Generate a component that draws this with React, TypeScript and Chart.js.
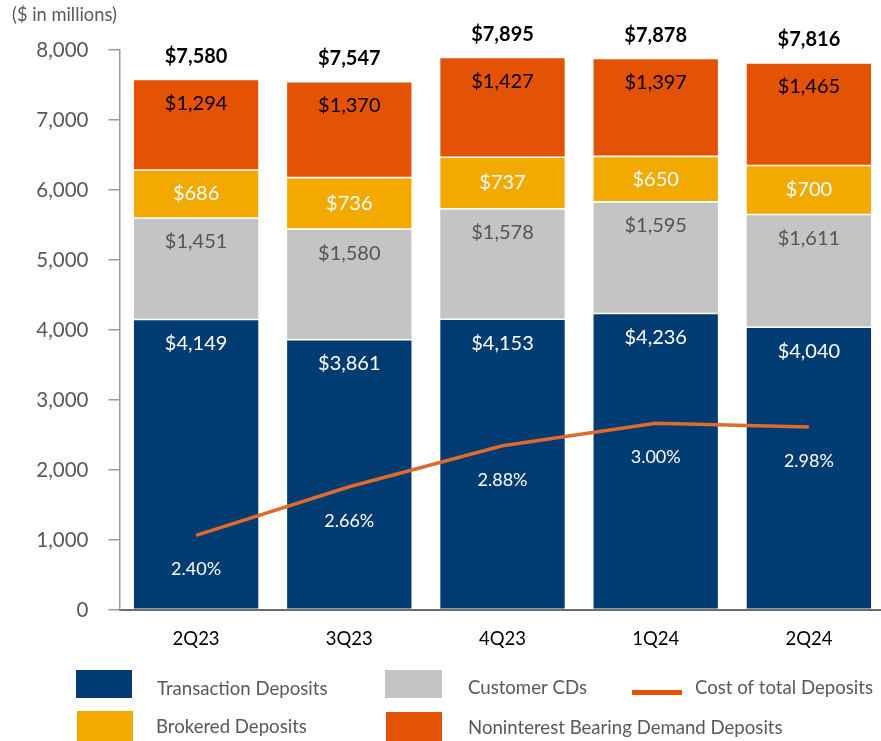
import React, { useEffect, useRef } from "react";
import { Chart, registerables } from "chart.js";

Chart.register(...registerables);

const categories = ["2Q23", "3Q23", "4Q23", "1Q24", "2Q24"];
const transactionDeposits = [4149, 3861, 4153, 4236, 4040];
const customerCDs = [1451, 1580, 1578, 1595, 1611];
const brokeredDeposits = [686, 736, 737, 650, 700];
const noninterestDeposits = [1294, 1370, 1427, 1397, 1465];
const totals = [7580, 7547, 7895, 7878, 7816];
const costOfDeposits = [2.4, 2.66, 2.88, 3.0, 2.98];
const yTicks = [0, 1000, 2000, 3000, 4000, 5000, 6000, 7000, 8000];

const FONT = "Lato, 'Noto Sans', sans-serif";
const BLUE = "#003B71";
const GREY = "#C4C4C4";
const YELLOW = "#F2A900";
const ORANGE = "#E35205";
const LINE = "#DE6A2C";
const TEXT_GREY = "#595959";

const fmt = (v: number) => "$" + v.toLocaleString("en-US");

const barSeries = [
  { label: "Transaction Deposits", data: transactionDeposits, color: BLUE, labelColor: "#ffffff", centered: false },
  { label: "Customer CDs", data: customerCDs, color: GREY, labelColor: "#555555", centered: false },
  { label: "Brokered Deposits", data: brokeredDeposits, color: YELLOW, labelColor: "#ffffff", centered: true },
  { label: "Noninterest Bearing Demand Deposits", data: noninterestDeposits, color: ORANGE, labelColor: "#000000", centered: false },
];

const labelsPlugin = {
  id: "customLabels",
  afterDatasetsDraw(chart: any) {
    const ctx = chart.ctx;
    ctx.save();
    ctx.textAlign = "center";
    ctx.textBaseline = "middle";
    // segment labels
    barSeries.forEach((s, si) => {
      const meta = chart.getDatasetMeta(si + 1);
      meta.data.forEach((bar: any, i: number) => {
        const p = bar.getProps(["x", "y", "base"], true);
        ctx.font = `20px ${FONT}`;
        ctx.fillStyle = s.labelColor;
        const y = s.centered ? (p.y + p.base) / 2 : p.y + 24;
        ctx.fillText(fmt(s.data[i]), p.x, y);
      });
    });
    // totals
    const topMeta = chart.getDatasetMeta(barSeries.length);
    topMeta.data.forEach((bar: any, i: number) => {
      const p = bar.getProps(["x", "y"], true);
      ctx.font = `bold 20px ${FONT}`;
      ctx.fillStyle = "#000000";
      ctx.fillText(fmt(totals[i]), p.x, p.y - 23);
    });
    // percentages
    const lineMeta = chart.getDatasetMeta(0);
    lineMeta.data.forEach((pt: any, i: number) => {
      const p = pt.getProps(["x", "y"], true);
      ctx.font = `18px ${FONT}`;
      ctx.fillStyle = "#ffffff";
      ctx.fillText(costOfDeposits[i].toFixed(2) + "%", p.x, p.y + 34);
    });

    // unit title
    ctx.textAlign = "left";
    ctx.font = `18.3px ${FONT}`;
    ctx.fillStyle = TEXT_GREY;
    ctx.fillText("($ in millions)", 12, 15);

    // legend
    const box = (x: number, y: number, w: number, h: number, c: string) => {
      ctx.fillStyle = c;
      ctx.fillRect(x, y, w, h);
    };
    const txt = (t: string, x: number, y: number) => {
      ctx.font = `18.6px ${FONT}`;
      ctx.fillStyle = TEXT_GREY;
      ctx.fillText(t, x, y);
    };
    box(76, 670, 56, 28, BLUE);
    txt("Transaction Deposits", 157, 689);
    box(385, 670, 57, 28, GREY);
    txt("Customer CDs", 468, 688);
    ctx.fillStyle = ORANGE;
    ctx.fillRect(632, 690, 50, 5);
    txt("Cost of total Deposits", 695, 688);
    box(77, 711, 56, 30, YELLOW);
    txt("Brokered Deposits", 156, 727);
    box(386, 712, 56, 29, ORANGE);
    txt("Noninterest Bearing Demand Deposits", 468, 728);
    ctx.restore();
  },
};

export default function App() {
  const ref = useRef<HTMLCanvasElement>(null);
  useEffect(() => {
    if (!ref.current) return;
    const chart = new Chart(ref.current, {
      type: "bar",
      data: {
        labels: categories,
        datasets: [
          {
            type: "line" as const,
            label: "Cost of total Deposits",
            data: costOfDeposits,
            yAxisID: "y2",
            borderColor: LINE,
            backgroundColor: LINE,
            borderWidth: 3.5,
            pointRadius: 0,
            tension: 0,
            order: 0,
          } as any,
          ...barSeries.map((s) => ({
            type: "bar" as const,
            label: s.label,
            data: s.data,
            backgroundColor: s.color,
            borderColor: "rgba(255,255,255,0.55)",
            borderWidth: 0.8,
            borderSkipped: false,
            categoryPercentage: 1,
            barPercentage: 0.822,
            yAxisID: "y",
            order: 1,
          })),
        ],
      },
      options: {
        responsive: false,
        animation: false,
        devicePixelRatio: 1,
        layout: { padding: { left: 0, top: 50, right: 6.5, bottom: 0 } },
        plugins: { legend: { display: false }, tooltip: { enabled: false } },
        scales: {
          x: {
            stacked: true,
            grid: { display: true, drawOnChartArea: false, drawTicks: false },
            border: { display: true, color: "#6b6b6b", width: 2 },
            ticks: { color: "#000000", font: { family: FONT, size: 18.5 }, padding: 18 },
            afterFit: (s: any) => {
              s.height = 131;
            },
          },
          y: {
            stacked: true,
            min: 0,
            max: 8000,
            afterBuildTicks: (s: any) => {
              s.ticks = yTicks.map((v) => ({ value: v }));
            },
            grid: { display: true, drawOnChartArea: false, drawTicks: true, tickLength: 11, color: "#9a9a9a", lineWidth: 1.5 },
            border: { display: true, color: "#9a9a9a", width: 1.5 },
            ticks: {
              color: TEXT_GREY,
              font: { family: FONT, size: 20.5 },
              padding: 20,
              callback: (v: any) => Number(v).toLocaleString("en-US"),
            },
            afterFit: (s: any) => {
              s.width = 119.5;
            },
          },
          y2: {
            display: false,
            stacked: false,
            min: 2,
            max: 5,
          },
        },
      },
      plugins: [labelsPlugin],
    });
    return () => chart.destroy();
  }, []);
  return (
    <div style={{ position: "absolute", left: 0, top: 0, width: 881, height: 741, overflow: "hidden", background: "#fff" }}>
      <canvas ref={ref} width={892} height={741} style={{ display: "block" }} />
    </div>
  );
}
